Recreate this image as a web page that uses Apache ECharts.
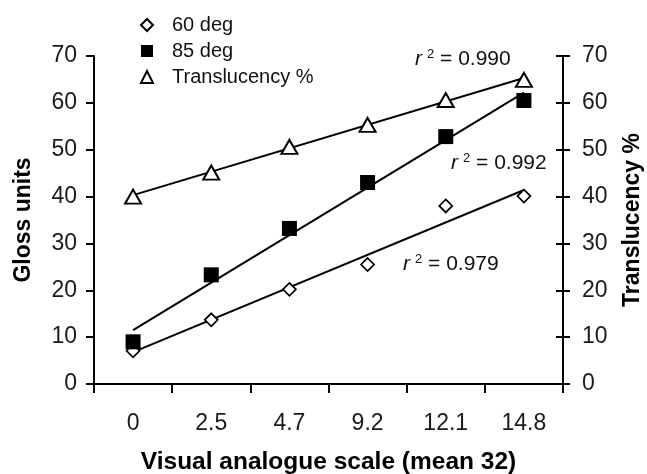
<!DOCTYPE html>
<html>
<head>
<meta charset="utf-8">
<script src="https://cdn.jsdelivr.net/npm/echarts@6/dist/echarts.min.js"></script>
<style>html,body{margin:0;padding:0;background:#fff}#c{width:647px;height:474px}</style>
</head>
<body>
<div id="c"></div>
<script>
// ---- data ----
var categories = ['0', '2.5', '4.7', '9.2', '12.1', '14.8'];
var gloss60 = [7.1, 13.7, 20.2, 25.5, 38.0, 40.1];
var gloss85 = [9.0, 23.3, 33.2, 43.0, 52.8, 60.5];
var translucency = [40.0, 45.1, 50.6, 55.3, 60.6, 64.9];
// trend line end values (at first and last category)
var trend60 = [6.8, 41.4];
var trend85 = [11.5, 62.2];
var trendTrans = [40.3, 65.3];
var yTicks = [0, 10, 20, 30, 40, 50, 60, 70];
var r2Labels = ['0.990', '0.992', '0.979'];

var FONT = '"Liberation Sans", Arial, sans-serif';
var chart = echarts.init(document.getElementById('c'));

function trendData(t) {
  return [[categories[0], t[0]], [categories[categories.length - 1], t[1]]];
}
function r2Text(x, y, v) {
  return {
    type: 'text', x: x, y: y, z: 100,
    style: {
      text: '{r|r}{s|2}{t| = ' + v + '}',
      verticalAlign: 'middle',
      rich: {
        r: { fontFamily: FONT, fontSize: 21, fontStyle: 'italic', fill: '#111' },
        s: { fontFamily: FONT, fontSize: 13, fill: '#111', padding: [0, 0, 10, 5] },
        t: { fontFamily: FONT, fontSize: 21, fill: '#111' }
      }
    }
  };
}

var yMin = yTicks[0], yMax = yTicks[yTicks.length - 1], yInt = yTicks[1] - yTicks[0];
var baseY = {
  type: 'value', min: yMin, max: yMax, interval: yInt,
  splitLine: { show: false },
  axisLine: { show: true, lineStyle: { color: '#000', width: 2 } },
  axisTick: { show: true, length: 8, lineStyle: { color: '#000', width: 2 } },
  axisLabel: { fontFamily: FONT, fontSize: 23, color: '#1a1a1a', margin: 17 },
  nameLocation: 'middle', nameRotate: 90,
  nameTextStyle: { fontFamily: FONT, fontSize: 23, fontWeight: 'bold', color: '#000' }
};

var option = {
  backgroundColor: '#fff',
  animation: false,
  grid: { left: 94, right: 84, top: 56, bottom: 90, containLabel: false, outerBoundsMode: 'none' },
  legend: {
    orient: 'vertical', left: 135, top: 10,
    itemWidth: 12, itemHeight: 12, itemGap: 6,
    textStyle: { fontFamily: FONT, fontSize: 20, color: '#111', lineHeight: 20, padding: [0, 0, 0, 14] },
    data: [
      { name: '60 deg', icon: 'diamond' },
      { name: '85 deg', icon: 'rect' },
      { name: 'Translucency %', icon: 'triangle' }
    ]
  },
  xAxis: {
    type: 'category', data: categories, boundaryGap: true,
    name: 'Visual analogue scale (mean 32)', nameLocation: 'middle', nameGap: 66,
    nameTextStyle: { fontFamily: FONT, fontSize: 24.5, fontWeight: 'bold', color: '#000' },
    axisLine: { lineStyle: { color: '#000', width: 2 } },
    axisTick: { show: true, length: 9, alignWithLabel: false, lineStyle: { color: '#000', width: 2 } },
    axisLabel: { fontFamily: FONT, fontSize: 23, color: '#1a1a1a', margin: 28 },
    splitLine: { show: false }
  },
  yAxis: [
    Object.assign({}, baseY, { position: 'left', name: 'Gloss units', nameGap: 59 }),
    Object.assign({}, baseY, { position: 'right', name: 'Translucency %', nameGap: 58,
      axisTick: { show: true, length: 7, lineStyle: { color: '#000', width: 2 } },
      axisLabel: Object.assign({}, baseY.axisLabel, { margin: 19 }) }),
    Object.assign({}, baseY, { position: 'right', name: '',
      axisTick: { show: true, inside: true, length: 7, lineStyle: { color: '#000', width: 2 } },
      axisLabel: { show: false } })
  ],
  series: [
    { name: 'trend60', type: 'line', data: trendData(trend60), symbol: 'none', z: 2,
      lineStyle: { color: '#000', width: 2 }, silent: true },
    { name: 'trend85', type: 'line', data: trendData(trend85), symbol: 'none', z: 2,
      lineStyle: { color: '#000', width: 2 }, silent: true },
    { name: 'trendTrans', type: 'line', yAxisIndex: 1, data: trendData(trendTrans), symbol: 'none', z: 2,
      lineStyle: { color: '#000', width: 2 }, silent: true },
    { name: '60 deg', type: 'scatter', data: gloss60, symbol: 'diamond', symbolSize: 13, z: 5,
      itemStyle: { color: '#fff', borderColor: '#000', borderWidth: 1.7, opacity: 1 } },
    { name: '85 deg', type: 'scatter', data: gloss85, symbol: 'rect', symbolSize: 15, z: 5,
      itemStyle: { color: '#000', borderColor: '#000', borderWidth: 0, opacity: 1 } },
    { name: 'Translucency %', type: 'scatter', yAxisIndex: 1, data: translucency, symbol: 'triangle',
      symbolSize: [16, 14], z: 5,
      itemStyle: { color: '#fff', borderColor: '#000', borderWidth: 2, opacity: 1 } }
  ],
  graphic: [
    r2Text(415, 59, r2Labels[0]),
    r2Text(451, 163, r2Labels[1]),
    r2Text(403, 264, r2Labels[2])
  ]
};
chart.setOption(option);
</script>
</body>
</html>
